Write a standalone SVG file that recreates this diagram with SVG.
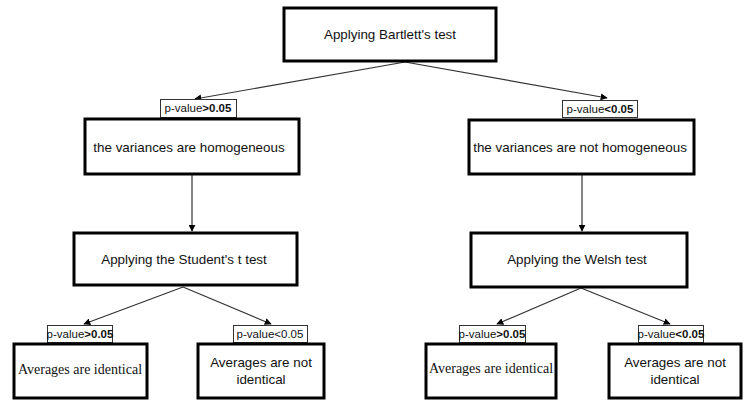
<svg xmlns="http://www.w3.org/2000/svg" width="746" height="400" viewBox="0 0 746 400">
<style>
.box{fill:#fff;stroke:#000;stroke-width:3}
.lbl{fill:#fff;stroke:#333;stroke-width:1}
.t{font-family:"Liberation Sans",Arial,sans-serif;font-size:13.4px;fill:#111;text-anchor:middle}
.ts{font-family:"Liberation Serif","Times New Roman",serif;font-size:14px;fill:#111;text-anchor:middle}
.l{font-family:"Liberation Sans",Arial,sans-serif;font-size:11.5px;fill:#111;text-anchor:middle}
.c{stroke:#333;stroke-width:1.2;fill:none;marker-end:url(#ah)}
</style>
<defs>
<marker id="ah" viewBox="0 0 10 10" refX="9" refY="5" markerWidth="7" markerHeight="7" markerUnits="userSpaceOnUse" orient="auto">
<path d="M0,0 L10,5 L0,10 z" fill="#000"/>
</marker>
</defs>
<rect width="746" height="400" fill="#fff"/>
<g id="connectors">
<line class="c" x1="405" y1="62" x2="195" y2="99"/>
<line class="c" x1="405" y1="62" x2="607" y2="98"/>
<line class="c" x1="192" y1="175" x2="192" y2="231"/>
<line class="c" x1="582" y1="175" x2="582" y2="231"/>
<line class="c" x1="183" y1="287" x2="84" y2="324"/>
<line class="c" x1="183" y1="287" x2="271" y2="324"/>
<line class="c" x1="581" y1="288" x2="497" y2="324"/>
<line class="c" x1="581" y1="288" x2="670" y2="324"/>
</g>
<g id="bartlett">
<rect class="box" x="284" y="8" width="212" height="53"/>
<text class="t" x="390" y="39">Applying Bartlett's test</text>
</g>
<g id="label-left">
<rect class="lbl" x="160.5" y="99.5" width="76" height="18"/>
<text class="l" x="198" y="112">p-value<tspan font-weight="bold">&gt;0.05</tspan></text>
</g>
<g id="label-right">
<rect class="lbl" x="562.5" y="100.5" width="75" height="17"/>
<text class="l" x="600" y="113">p-value<tspan font-weight="bold">&lt;0.05</tspan></text>
</g>
<g id="homogeneous">
<rect class="box" x="85" y="119" width="214" height="55"/>
<text class="t" x="189" y="152">the variances are homogeneous</text>
</g>
<g id="not-homogeneous">
<rect class="box" x="469" y="120" width="225" height="54"/>
<text class="t" x="580" y="152">the variances are not homogeneous</text>
</g>
<g id="student">
<rect class="box" x="74" y="233" width="223" height="52"/>
<text class="t" x="184" y="264">Applying the Student's t test</text>
</g>
<g id="welsh">
<rect class="box" x="471" y="233" width="216" height="54"/>
<text class="t" x="577" y="264">Applying the Welsh test</text>
</g>
<g id="label-b1">
<rect class="lbl" x="47.5" y="325.5" width="65" height="17"/>
<text class="l" x="80" y="338">p-value<tspan font-weight="bold">&gt;0.05</tspan></text>
</g>
<g id="label-b2">
<rect class="lbl" x="233.5" y="325.5" width="74" height="17"/>
<text class="l" x="270" y="338">p-value&lt;0.05</text>
</g>
<g id="label-b3">
<rect class="lbl" x="459.5" y="325.5" width="66" height="17"/>
<text class="l" x="492" y="338">p-value<tspan font-weight="bold">&gt;0.05</tspan></text>
</g>
<g id="label-b4">
<rect class="lbl" x="638.5" y="325.5" width="65" height="17"/>
<text class="l" x="671" y="338">p-value<tspan font-weight="bold">&lt;0.05</tspan></text>
</g>
<g id="identical-left">
<rect class="box" x="14" y="344" width="133" height="54"/>
<text class="ts" x="80" y="374">Averages are identical</text>
</g>
<g id="not-identical-left">
<rect class="box" x="198" y="344" width="126" height="54"/>
<text class="t" x="261" y="367">Averages are not</text>
<text class="t" x="261" y="384">identical</text>
</g>
<g id="identical-right">
<rect class="box" x="426" y="344" width="130" height="54"/>
<text class="ts" x="491" y="373">Averages are identical</text>
</g>
<g id="not-identical-right">
<rect class="box" x="609" y="344" width="132" height="54"/>
<text class="t" x="675" y="367">Averages are not</text>
<text class="t" x="675" y="384">identical</text>
</g>
</svg>
